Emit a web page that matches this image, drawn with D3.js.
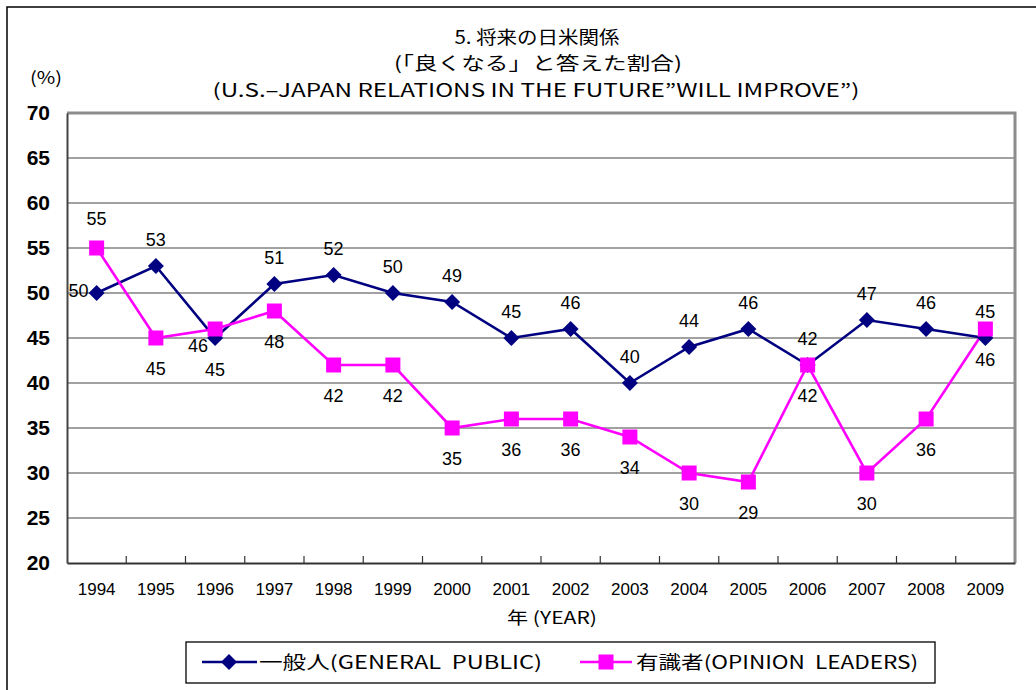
<!DOCTYPE html>
<html><head><meta charset="utf-8">
<script src="https://cdn.jsdelivr.net/npm/d3@7/dist/d3.min.js"></script>
<style>body{margin:0;background:#fff;} svg{display:block;}</style>
</head><body>
<svg id="c" width="1036" height="690"></svg>
<script>
const years = ["1994","1995","1996","1997","1998","1999","2000","2001","2002","2003","2004","2005","2006","2007","2008","2009"];
const generalPublic = [50,53,45,51,52,50,49,45,46,40,44,46,42,47,46,45];
const opinionLeaders = [55,45,46,48,42,42,35,36,36,34,30,29,42,30,36,46];
const yTicks = [20,25,30,35,40,45,50,55,60,65,70];
const titleLines = ["5. 将来の日米関係","(「良くなる」と答えた割合)","(U.S.–JAPAN RELATIONS IN THE FUTURE\u201DWILL IMPROVE\u201D)"];
const seriesNames = ["一般人(GENERAL\u00A0 PUBLIC)","有識者(OPINION\u00A0 LEADERS)"];

const svg = d3.select("#c");
const L = 67, R = 1015, T = 113, B = 563;
const jp = "'Noto Sans CJK JP','Noto Sans',sans-serif";
const ar = "'Liberation Sans',Arial,sans-serif";

// outer frame
svg.append("rect").attr("x",7).attr("y",7).attr("width",1100).attr("height",800)
  .attr("fill","none").attr("stroke","#000").attr("stroke-width",1.5);

const x = d3.scaleBand().domain(years).range([L,R]).padding(0);
const y = d3.scaleLinear().domain([20,70]).range([B,T]);

// gridlines
svg.append("g").selectAll("line").data(yTicks.filter(v=>v>20&&v<70)).join("line")
  .attr("x1",L).attr("x2",R).attr("y1",d=>y(d)).attr("y2",d=>y(d))
  .attr("stroke","#444").attr("stroke-width",1.2);

// plot border top/right
svg.append("path").attr("d",`M${L},${T}H${R}V${B}`).attr("fill","none")
  .attr("stroke","#8c8c8c").attr("stroke-width",3);

// y axis
const yAxis = svg.append("g").attr("transform",`translate(${L},0)`)
  .call(d3.axisLeft(y).tickValues(yTicks).tickSize(0).tickPadding(17));
yAxis.select(".domain").attr("stroke","#444").attr("stroke-width",2);
yAxis.selectAll("text").attr("font-family",ar).attr("font-weight","bold").attr("font-size",21).attr("fill","#000");

// x axis
const xAxis = svg.append("g").attr("transform",`translate(0,${B})`)
  .call(d3.axisBottom(x).tickSize(0).tickPadding(20));
xAxis.select(".domain").attr("stroke","#333").attr("stroke-width",2);
xAxis.selectAll("text").attr("font-family",ar).attr("font-size",17).attr("fill","#000");
svg.append("g").selectAll("line").data(years.slice(1)).join("line")
  .attr("x1",d=>x(d)).attr("x2",d=>x(d)).attr("y1",B).attr("y2",B-7)
  .attr("stroke","#333").attr("stroke-width",1.2);

const cx = d => x(d) + x.bandwidth()/2;

// lines
const line = d3.line().x(d=>cx(d[0])).y(d=>y(d[1]));
const gpData = years.map((yr,i)=>[yr,generalPublic[i]]);
const olData = years.map((yr,i)=>[yr,opinionLeaders[i]]);
const navy = "#000080", mag = "#FF00FF";
svg.append("path").attr("d",line(gpData)).attr("fill","none").attr("stroke",navy).attr("stroke-width",2.6);
svg.append("path").attr("d",line(olData)).attr("fill","none").attr("stroke",mag).attr("stroke-width",2.6);

const diamond = (g,px,py)=> g.append("path")
  .attr("d",`M${px},${py-8}L${px+8},${py}L${px},${py+8}L${px-8},${py}Z`).attr("fill",navy);
const square = (g,px,py)=> g.append("rect").attr("x",px-7.5).attr("y",py-7.5)
  .attr("width",15).attr("height",15).attr("fill",mag);

const mk = svg.append("g");
gpData.forEach(d=>diamond(mk,cx(d[0]),y(d[1])));
olData.forEach(d=>square(mk,cx(d[0]),y(d[1])));

// data labels
const gpOffsets = {"1994":[-18,-3],"1996":[0,31]};
const olOffsets = {"1994":[0,-30],"1996":[-17,16]};
const lab = svg.append("g").attr("font-family",ar).attr("font-size",18).attr("fill","#000").attr("text-anchor","middle");
gpData.forEach(d=>{
  const o = gpOffsets[d[0]] || [0,-27];
  lab.append("text").attr("x",cx(d[0])+o[0]).attr("y",y(d[1])+o[1]+6.5).text(d[1]);
});
olData.forEach(d=>{
  const o = olOffsets[d[0]] || [0,30];
  lab.append("text").attr("x",cx(d[0])+o[0]).attr("y",y(d[1])+o[1]+6.5).text(d[1]);
});

// titles
const tspec = [[537,44,165],[538,70,288],[536,97,647]];
titleLines.forEach((t,i)=>{
  svg.append("text").attr("x",tspec[i][0]).attr("y",tspec[i][1]).attr("text-anchor","middle")
    .attr("font-family",jp).attr("font-size",18).attr("fill","#000")
    .attr("textLength",tspec[i][2]).attr("lengthAdjust","spacingAndGlyphs").text(t);
});
svg.append("text").attr("x",46).attr("y",84).attr("text-anchor","middle")
  .attr("font-family",jp).attr("font-size",17).attr("textLength",32).attr("lengthAdjust","spacingAndGlyphs").text("(%)");
svg.append("text").attr("x",552).attr("y",624).attr("text-anchor","middle")
  .attr("font-family",jp).attr("font-size",17).attr("textLength",90).attr("lengthAdjust","spacingAndGlyphs").text("年 (YEAR)");

// legend
svg.append("rect").attr("x",186).attr("y",642).attr("width",749).attr("height",41)
  .attr("fill","#fff").attr("stroke","#000").attr("stroke-width",1.3);
const lg = svg.append("g");
lg.append("line").attr("x1",202).attr("x2",257).attr("y1",662).attr("y2",662).attr("stroke",navy).attr("stroke-width",2.6);
diamond(lg,229,662);
lg.append("line").attr("x1",580).attr("x2",632).attr("y1",662).attr("y2",662).attr("stroke",mag).attr("stroke-width",2.6);
square(lg,606,662);
lg.append("text").attr("x",259).attr("y",669).attr("font-family",jp).attr("font-size",18)
  .attr("textLength",283).attr("lengthAdjust","spacingAndGlyphs").text(seriesNames[0]);
lg.append("text").attr("x",636).attr("y",669).attr("font-family",jp).attr("font-size",18)
  .attr("textLength",282).attr("lengthAdjust","spacingAndGlyphs").text(seriesNames[1]);
</script>
</body></html>
